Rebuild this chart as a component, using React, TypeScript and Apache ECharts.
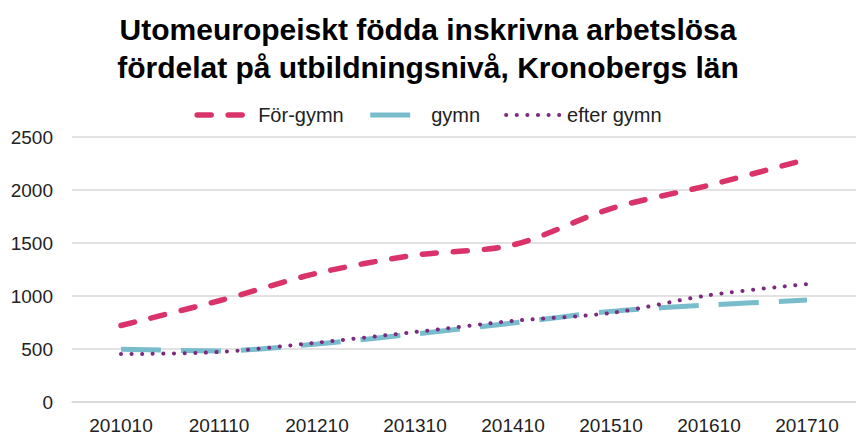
import React, { useEffect, useRef } from "react";
import * as echarts from "echarts";

const categories = ["201010", "201110", "201210", "201310", "201410", "201510", "201610", "201710"];
const forGymn = [722, 955, 1215, 1385, 1482, 1825, 2045, 2290];
const gymn = [498, 482, 548, 642, 745, 855, 915, 962];
const efterGymn = [452, 472, 560, 660, 765, 840, 1008, 1112];
const yTicks = { min: 0, max: 2500, interval: 500 };
const titleText = "Utomeuropeiskt födda inskrivna arbetslösa\nfördelat på utbildningsnivå, Kronobergs län";

export default function App() {
  const ref = useRef<HTMLDivElement>(null);
  useEffect(() => {
    if (!ref.current) return;
    const chart = echarts.init(ref.current, null, { renderer: "svg" });
    const font = "Liberation Sans, Arial, sans-serif";
    chart.setOption({
      animation: false,
      backgroundColor: "#ffffff",
      title: {
        text: titleText,
        left: "center",
        top: 5,
        textStyle: {
          fontFamily: font,
          fontSize: 30,
          fontWeight: "bold",
          color: "#000000",
          lineHeight: 38,
        },
      },
      legend: {
        top: 100,
        left: "center",
        itemWidth: 56,
        itemHeight: 14,
        itemGap: 24,
        itemStyle: { opacity: 0 },
        lineStyle: { width: "inherit" },
        textStyle: { fontFamily: font, fontSize: 20, color: "#222222" },
        data: ["För-gymn", "gymn", "efter gymn"],
      },
      grid: { left: 72, top: 137, bottom: 35, width: 796, containLabel: false },
      xAxis: {
        type: "category",
        data: categories,
        boundaryGap: true,
        axisLine: { show: true, lineStyle: { color: "#d9d9d9", width: 1.5 } },
        axisTick: { show: false },
        axisLabel: { fontFamily: font, fontSize: 19, color: "#222222", margin: 14 },
      },
      yAxis: {
        type: "value",
        min: yTicks.min,
        max: yTicks.max,
        interval: yTicks.interval,
        axisLine: { show: false },
        axisTick: { show: false },
        splitLine: { lineStyle: { color: "#d9d9d9", width: 1.5 } },
        axisLabel: {
          fontFamily: font,
          fontSize: 19,
          color: "#222222",
          margin: 19,
          formatter: (v: number) => String(v),
        },
      },
      series: [
        {
          name: "För-gymn",
          type: "line",
          data: forGymn,
          smooth: 0.3,
          symbol: "none",
          lineStyle: { color: "#d9336a", width: 5.5, type: [14, 17], cap: "round" },
          itemStyle: { color: "#d9336a" },
          z: 3,
        },
        {
          name: "gymn",
          type: "line",
          data: gymn,
          smooth: 0.3,
          symbol: "none",
          lineStyle: { color: "#79bdcd", width: 5, type: [40, 20], cap: "butt" },
          itemStyle: { color: "#79bdcd" },
          z: 2,
        },
        {
          name: "efter gymn",
          type: "line",
          data: efterGymn,
          smooth: 0.3,
          symbol: "none",
          lineStyle: { color: "#7b2a7e", width: 4, type: [0.1, 10.5], cap: "round" },
          itemStyle: { color: "#7b2a7e" },
          z: 4,
        },
      ],
    });
    return () => chart.dispose();
  }, []);
  return <div ref={ref} style={{ width: 856, height: 437, position: "absolute", left: 0, top: 0 }} />;
}
